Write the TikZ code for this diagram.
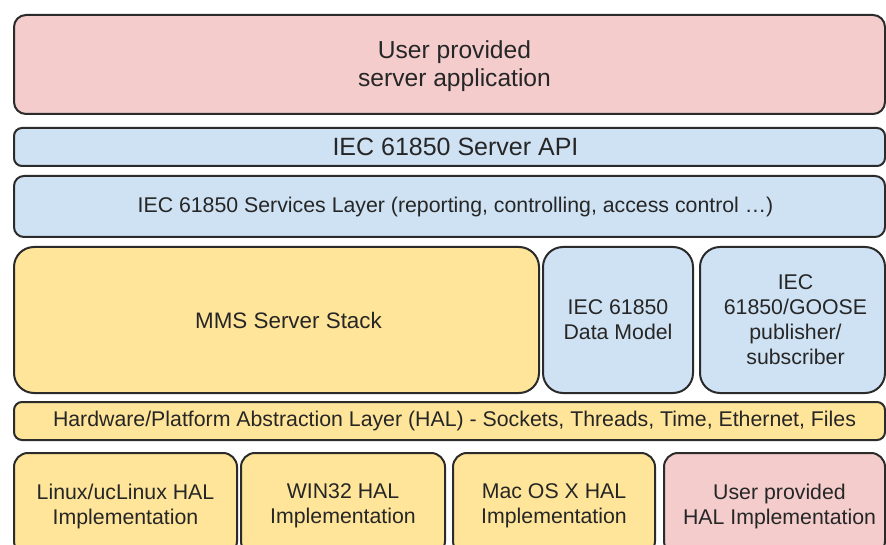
\documentclass[tikz,border=0pt]{standalone}
\usepackage{fontspec}
\setmainfont{Liberation Sans}
\definecolor{pinkfill}{HTML}{F4CCCC}
\definecolor{bluefill}{HTML}{CFE2F3}
\definecolor{yellowfill}{HTML}{FFE599}
\definecolor{edge}{HTML}{2B2B2B}
\begin{document}
\begin{tikzpicture}[x=1pt,y=-1pt,
  layer/.style={draw=edge, line width=2pt, rounded corners=#1, inner sep=0pt},
  layer/.default=12pt,
  txt/.style={align=center, text=black!85, inner sep=0pt},
  pinkbox/.style={fill=pinkfill},
  bluebox/.style={fill=bluefill},
  yellowbox/.style={fill=yellowfill},
  big/.style={font=\fontsize{24.6}{28}\selectfont},
  mid/.style={font=\fontsize{21.3}{25}\selectfont}]
\clip (0,0) rectangle (886,545);
\fill[white] (0,0) rectangle (886,545);
% Application and protocol layers
\node[layer, pinkbox, minimum width=871pt, minimum height=99pt,
  label={[txt, big, xshift=5pt, yshift=-2pt]center:User provided\\server application}] (app) at (449.5,64.5) {};
\node[layer=8pt, bluebox, minimum width=871pt, minimum height=38pt,
  label={[txt, font=\fontsize{25}{28}\selectfont, xshift=6pt]center:IEC 61850 Server API}] (api) at (449.5,147) {};
\node[layer=10pt, bluebox, minimum width=871pt, minimum height=61pt,
  label={[txt, mid, xshift=6pt]center:IEC 61850 Services Layer (reporting, controlling, access control \dots)}] (svc) at (449.5,206.5) {};
% Stack row
\node[layer=20pt, yellowbox, minimum width=525pt, minimum height=146pt,
  label={[txt, font=\fontsize{22.4}{26}\selectfont, xshift=12pt]center:MMS Server Stack}] (mms) at (276.5,320) {};
\node[layer=20pt, bluebox, minimum width=150pt, minimum height=146pt,
  label={[txt, mid]center:IEC 61850\\Data Model}] (dm) at (618,320) {};
\node[layer=20pt, bluebox, minimum width=185pt, minimum height=146pt,
  label={[txt, mid, xshift=3pt]center:IEC\\61850/GOOSE\\publisher/\\subscriber}] (goose) at (792.5,320) {};
% Platform abstraction
\node[layer=8pt, yellowbox, minimum width=871pt, minimum height=38pt,
  label={[txt, mid, xshift=5pt]center:Hardware/Platform Abstraction Layer (HAL) - Sockets, Threads, Time, Ethernet, Files}] (hal) at (449.5,421) {};
% HAL implementations
\node[layer=14pt, yellowbox, minimum width=223pt, minimum height=102pt,
  label={[txt, mid, yshift=-2pt]center:Linux/ucLinux HAL\\Implementation}] (linux) at (125.5,504) {};
\node[layer=14pt, yellowbox, minimum width=204pt, minimum height=102pt,
  label={[txt, mid, yshift=-2pt]center:WIN32 HAL\\Implementation}] (win) at (343,504) {};
\node[layer=14pt, yellowbox, minimum width=202pt, minimum height=102pt,
  label={[txt, mid, yshift=-2pt]center:Mac OS X HAL\\Implementation}] (mac) at (554,504) {};
\node[layer=14pt, pinkbox, minimum width=221pt, minimum height=102pt,
  label={[txt, mid, xshift=5pt, yshift=-2pt]center:User provided\\HAL Implementation}] (user) at (774.5,504) {};
\end{tikzpicture}
\end{document}
